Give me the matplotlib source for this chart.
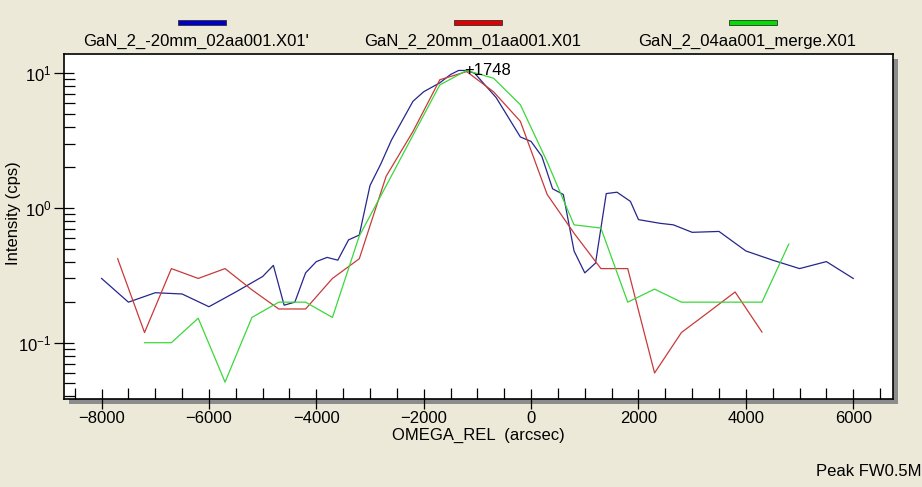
import matplotlib
matplotlib.use("Agg")
import matplotlib.pyplot as plt
from matplotlib.patches import Rectangle
from matplotlib.ticker import MultipleLocator, LogLocator

plt.rcParams['font.family'] = ['Liberation Sans', 'DejaVu Sans']

# --- data ---
blue_x = [-8000, -7500, -7000, -6500, -6000, -5500, -5000, -4800, -4600, -4400,
          -4200, -4000, -3800, -3600, -3400, -3200, -3000, -2800, -2600, -2200,
          -2000, -1700, -1500, -1350, -1200, -1050, -650, -200, 0, 200,
          400, 600, 800, 1000, 1200, 1400, 1600, 1850, 2000, 2400,
          2650, 3000, 3500, 4000, 4500, 5000, 5500, 6000]
blue_y = [0.30, 0.20, 0.235, 0.23, 0.185, 0.238, 0.31, 0.375, 0.19, 0.20,
          0.33, 0.40, 0.43, 0.41, 0.58, 0.63, 1.47, 2.12, 3.2, 6.2,
          7.3, 8.5, 9.8, 10.5, 10.5, 10.0, 6.6, 3.37, 3.12, 2.42,
          1.39, 1.26, 0.48, 0.33, 0.39, 1.28, 1.31, 1.12, 0.82, 0.77,
          0.75, 0.66, 0.67, 0.48, 0.41, 0.355, 0.40, 0.30]

red_x = [-7700, -7200, -6700, -6200, -5700, -5200, -4700, -4200, -3700, -3200,
         -2700, -2200, -1700, -1200, -700, -200, 300, 800, 1300, 1800,
         2300, 2800, 3300, 3800, 4300]
red_y = [0.42, 0.119, 0.355, 0.30, 0.355, 0.247, 0.178, 0.178, 0.30, 0.42,
         1.72, 3.7, 8.96, 10.3, 7.3, 4.4, 1.26, 0.65, 0.355, 0.355,
         0.0596, 0.119, 0.168, 0.238, 0.12]

green_x = [-7200, -6700, -6200, -5700, -5200, -4700, -4200, -3700, -3200, -2700,
           -2200, -1700, -1200, -700, -200, 300, 800, 1300, 1800, 2300,
           2800, 3300, 3800, 4300, 4800]
green_y = [0.10, 0.10, 0.152, 0.051, 0.154, 0.20, 0.20, 0.154, 0.62, 1.46,
           3.47, 8.2, 10.5, 9.2, 5.85, 2.2, 0.75, 0.71, 0.20, 0.25,
           0.20, 0.20, 0.20, 0.20, 0.54]

names = ["GaN_2_-20mm_02aa001.X01'", "GaN_2_20mm_01aa001.X01", "GaN_2_04aa001_merge.X01"]
line_colors = ["#26268c", "#c83a3a", "#3ad83a"]
bar_colors = ["#0000c8", "#e00000", "#00e000"]

peak_x = -1250
peak_y = 10.5
peak_label = "1748"

bg = "#ece9d8"
fig = plt.figure(figsize=(9.22, 4.87), dpi=100, facecolor=bg)
ax = fig.add_axes([0.0694, 0.1807, 0.8991, 0.7083])

# drop shadow behind the plot frame
fig.patches.append(Rectangle((0.0694 + 5/922, 0.1807 - 5/487), 0.8991, 0.7083,
                             transform=fig.transFigure, facecolor="#8c8c8c",
                             edgecolor="none", zorder=-1))

ax.plot(blue_x, blue_y, color=line_colors[0], lw=0.9)
ax.plot(red_x, red_y, color=line_colors[1], lw=0.9)
ax.plot(green_x, green_y, color=line_colors[2], lw=0.9)

ax.set_yscale("log")
ax.set_xlim(-8700, 6740)
ax.set_ylim(0.0382, 13.9)

ax.xaxis.set_major_locator(MultipleLocator(2000))
ax.xaxis.set_minor_locator(MultipleLocator(500))
ax.yaxis.set_major_locator(LogLocator(base=10))
ax.yaxis.set_minor_locator(LogLocator(base=10, subs=range(2, 10)))
ax.tick_params(which="major", direction="inout", length=14, width=0.9, labelsize=12, pad=2)
ax.tick_params(which="minor", direction="in", length=8, width=0.9)
for s in ax.spines.values():
    s.set_linewidth(1.2)

ax.text(peak_x, peak_y, "+" + peak_label, fontsize=12, ha="left", va="center")

ax.set_xlabel("OMEGA_REL  (arcsec)", fontsize=12, labelpad=1)
ax.set_ylabel("Intensity (cps)", fontsize=12)
ax.yaxis.set_label_coords(-0.052, 0.54)

# legend row above the plot
centers = [202, 478, 753]
for c, name, bc in zip(centers, names, bar_colors):
    fig.patches.append(Rectangle(((c - 24) / 922, 1 - 25 / 487), 48 / 922, 5 / 487,
                                 transform=fig.transFigure, facecolor=bc,
                                 edgecolor="#303030", lw=0.6))
    fig.text(c / 922 - 0.006, 1 - 41 / 487, name, ha="center", va="center", fontsize=12)

fig.text(0.999, 1 - 472 / 487, "Peak FW0.5M", ha="right", va="center", fontsize=12)

fig.savefig("out.png", dpi=100, facecolor=bg)
